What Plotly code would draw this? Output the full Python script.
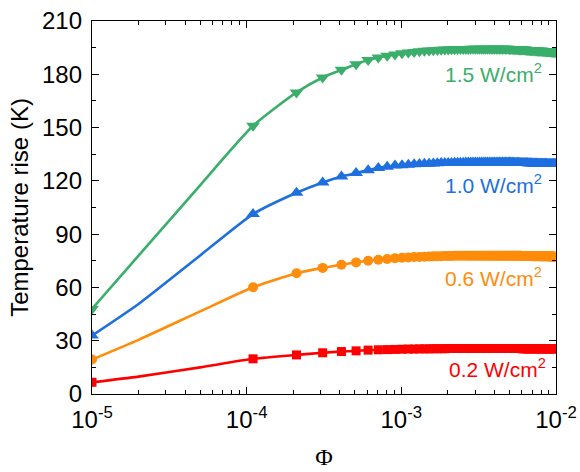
import plotly.graph_objects as go

# x grid of the marked points: 1e-5, 1.1e-4, 2.1e-4, ... 9.91e-3
phi_marks = [round(1e-5 + k * 1e-4, 8) for k in range(100)]
# extra points of the lines below 1.1e-4
phi_early = [1e-5, 2e-5, 5e-5]

labels = ["0.2 W/cm<sup>2</sup>", "0.6 W/cm<sup>2</sup>", "1.0 W/cm<sup>2</sup>", "1.5 W/cm<sup>2</sup>"]

red_early = [6.6, 9.8, 15.0]
red_marks = [6.6, 19.8, 22.0, 23.2, 23.9, 24.3, 24.7, 24.9, 25.0, 25.1,
             25.2, 25.3, 25.3, 25.4, 25.4, 25.4, 25.5, 25.5, 25.5, 25.5,
             25.6, 25.6, 25.6, 25.6, 25.6, 25.6, 25.6, 25.6, 25.6, 25.6,
             25.6, 25.6, 25.6, 25.6, 25.6, 25.6, 25.6, 25.6, 25.6, 25.6,
             25.6, 25.6, 25.6, 25.6, 25.6, 25.6, 25.6, 25.6, 25.6, 25.6,
             25.6, 25.6, 25.6, 25.6, 25.6, 25.6, 25.6, 25.6, 25.6, 25.6,
             25.5, 25.5, 25.5, 25.5, 25.5, 25.5, 25.5, 25.5, 25.5, 25.5,
             25.5, 25.5, 25.5, 25.5, 25.5, 25.5, 25.5, 25.5, 25.5, 25.5,
             25.5, 25.5, 25.5, 25.5, 25.5, 25.5, 25.5, 25.5, 25.5, 25.5,
             25.5, 25.5, 25.5, 25.5, 25.5, 25.5, 25.5, 25.5, 25.5, 25.5]

orange_early = [19.4, 30.5, 46.5]
orange_marks = [19.4, 60.1, 68.0, 71.0, 72.8, 74.1, 75.0, 75.6, 76.0, 76.4,
                76.7, 76.9, 77.1, 77.2, 77.3, 77.4, 77.5, 77.6, 77.6, 77.7,
                77.7, 77.7, 77.8, 77.8, 77.8, 77.8, 77.8, 77.9, 77.9, 77.9,
                77.9, 77.9, 77.9, 77.9, 77.9, 77.9, 77.9, 77.9, 77.9, 77.9,
                77.9, 77.9, 77.9, 77.9, 77.9, 77.9, 77.9, 77.9, 77.9, 77.9,
                77.9, 77.9, 77.9, 77.8, 77.8, 77.8, 77.8, 77.8, 77.8, 77.8,
                77.7, 77.7, 77.7, 77.7, 77.7, 77.7, 77.7, 77.7, 77.7, 77.7,
                77.6, 77.6, 77.6, 77.6, 77.6, 77.6, 77.6, 77.6, 77.6, 77.6,
                77.5, 77.5, 77.5, 77.5, 77.5, 77.5, 77.5, 77.5, 77.5, 77.5,
                77.4, 77.4, 77.4, 77.4, 77.4, 77.4, 77.4, 77.3, 77.3, 77.3]

blue_early = [32.9, 50.7, 78.0]
blue_marks = [32.9, 101.3, 113.3, 119.1, 122.5, 124.4, 126.0, 127.2, 128.0, 128.6,
              128.8, 129.1, 129.3, 129.5, 129.6, 129.7, 129.8, 129.9, 130.0, 130.0,
              130.1, 130.1, 130.2, 130.2, 130.2, 130.2, 130.3, 130.3, 130.3, 130.3,
              130.3, 130.3, 130.3, 130.3, 130.3, 130.3, 130.3, 130.3, 130.3, 130.3,
              130.3, 130.3, 130.3, 130.3, 130.3, 130.3, 130.3, 130.3, 130.3, 130.3,
              130.3, 130.3, 130.3, 130.2, 130.2, 130.2, 130.2, 130.2, 130.1, 130.1,
              130.1, 130.1, 130.0, 130.0, 130.0, 130.0, 129.9, 129.9, 129.9, 129.9,
              129.8, 129.8, 129.8, 129.8, 129.8, 129.8, 129.7, 129.7, 129.7, 129.7,
              129.7, 129.7, 129.6, 129.6, 129.6, 129.6, 129.6, 129.6, 129.5, 129.5,
              129.5, 129.5, 129.5, 129.5, 129.5, 129.5, 129.5, 129.5, 129.5, 129.5]

green_early = [47.9, 77.9, 117.5]
green_marks = [47.9, 151.0, 169.8, 178.2, 182.5, 185.7, 188.0, 189.4, 190.4, 191.2,
               191.8, 192.2, 192.6, 192.9, 193.2, 193.4, 193.6, 193.7, 193.8, 193.9,
               194.0, 194.1, 194.1, 194.2, 194.2, 194.3, 194.3, 194.3, 194.4, 194.4,
               194.4, 194.4, 194.4, 194.4, 194.4, 194.4, 194.4, 194.4, 194.4, 194.4,
               194.4, 194.4, 194.4, 194.4, 194.4, 194.4, 194.4, 194.4, 194.4, 194.4,
               194.3, 194.3, 194.2, 194.2, 194.2, 194.1, 194.1, 194.1, 194.0, 194.0,
               193.9, 193.9, 193.9, 193.8, 193.8, 193.7, 193.7, 193.7, 193.6, 193.6,
               193.5, 193.5, 193.5, 193.4, 193.4, 193.4, 193.3, 193.3, 193.3, 193.2,
               193.2, 193.2, 193.1, 193.1, 193.1, 193.0, 193.0, 193.0, 192.9, 192.9,
               192.9, 192.8, 192.8, 192.8, 192.7, 192.7, 192.7, 192.7, 192.6, 192.6]

y_ticks = [0, 30, 60, 90, 120, 150, 180, 210]
x_ticks = [1e-5, 1e-4, 1e-3, 1e-2]
x_ticktext = ["10<sup>-5</sup>", "10<sup>-4</sup>", "10<sup>-3</sup>", "10<sup>-2</sup>"]

series = [
    (red_early, red_marks, "#FF0000", "square", 9, labels[0], 14.8, 0.983),
    (orange_early, orange_marks, "#FF8C0A", "circle", 10, labels[1], 65.7, 0.975),
    (blue_early, blue_marks, "#1E6FE0", "triangle-up", 12, labels[2], 118.2, 0.975),
    (green_early, green_marks, "#3AAE6A", "triangle-down", 12, labels[3], 181.0, 0.975),
]

fig = go.Figure()
font_main = "Liberation Sans, Arial, sans-serif"

for early, marks, color, sym, msize, lab, ylab, xlab in series:
    xl = phi_early + phi_marks[1:]
    yl = early + marks[1:]
    fig.add_trace(go.Scatter(x=xl, y=yl, mode="lines",
                             line=dict(color=color, width=2.6, shape="spline", smoothing=0.6),
                             showlegend=False))
    fig.add_trace(go.Scatter(x=phi_marks, y=marks, mode="markers",
                             marker=dict(color=color, symbol=sym, size=msize, line=dict(width=0)),
                             showlegend=False))
    fig.add_annotation(x=xlab, xref="paper", y=ylab, yref="y", text=lab, showarrow=False,
                       xanchor="right", yanchor="middle",
                       font=dict(family=font_main, size=21, color=color))

fig.update_layout(
    width=580, height=472,
    margin=dict(l=92, r=24, t=21, b=78, autoexpand=False),
    paper_bgcolor="white", plot_bgcolor="white",
    font=dict(family=font_main, color="black"),
)
fig.update_xaxes(
    type="log", range=[-5, -2], automargin=False,
    tickmode="array", tickvals=x_ticks, ticktext=x_ticktext,
    ticks="inside", ticklen=7, tickwidth=1.3, tickcolor="black",
    showline=True, linecolor="black", linewidth=1.3, mirror="ticks",
    showgrid=False, zeroline=False,
    tickfont=dict(size=24, family=font_main), ticklabelstandoff=4,
    minor=dict(dtick="D1", ticks="inside", ticklen=4, tickwidth=1.2, tickcolor="black", showgrid=False),
    title=dict(text="Φ", font=dict(size=24, family="Liberation Serif, Times New Roman, serif"), standoff=16),
)
fig.update_yaxes(
    range=[0, 210], automargin=False,
    tickmode="array", tickvals=y_ticks,
    ticks="inside", ticklen=7, tickwidth=1.3, tickcolor="black",
    showline=True, linecolor="black", linewidth=1.3, mirror="ticks",
    showgrid=False, zeroline=False,
    tickfont=dict(size=24, family=font_main), ticklabelstandoff=4,
    minor=dict(dtick=15, tick0=0, ticks="inside", ticklen=4, tickwidth=1.2, tickcolor="black", showgrid=False),
    title=dict(text="Temperature rise (K)", font=dict(size=24, family=font_main), standoff=6),
)

fig.write_html("out.html")
